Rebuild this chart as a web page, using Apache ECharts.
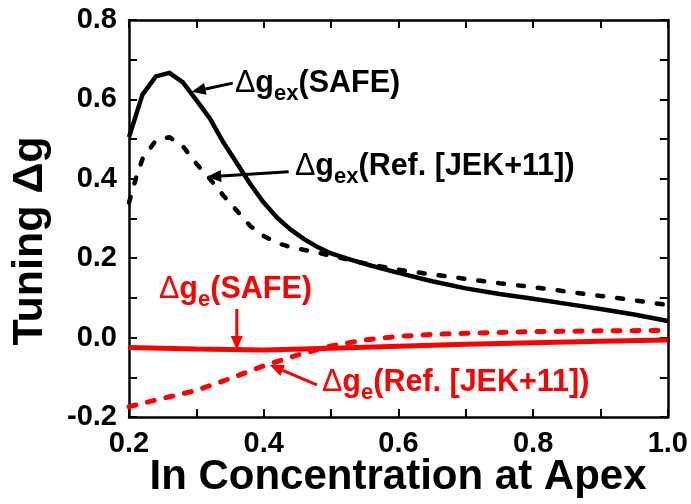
<!DOCTYPE html>
<html>
<head>
<meta charset="utf-8">
<script src="https://cdn.jsdelivr.net/npm/echarts@6/dist/echarts.min.js"></script>
<style>
  html, body { margin: 0; padding: 0; background: #fff; }
  #chart { width: 691px; height: 504px; }
</style>
</head>
<body>
<div id="chart"></div>
<script>
// In concentration at the apex (x) for each curve
const xExSafe = [0.20, 0.22, 0.24, 0.26, 0.28, 0.30, 0.32, 0.34, 0.36, 0.38, 0.40, 0.42, 0.44, 0.46, 0.48, 0.50, 0.53, 0.56, 0.60, 0.65, 0.70, 0.75, 0.80, 0.85, 0.90, 0.95, 1.00];
const exSafe  = [0.505, 0.612, 0.658, 0.667, 0.643, 0.598, 0.552, 0.492, 0.440, 0.387, 0.340, 0.302, 0.272, 0.248, 0.228, 0.212, 0.196, 0.181, 0.163, 0.142, 0.124, 0.110, 0.098, 0.085, 0.072, 0.058, 0.042];

const xExRef = [0.20, 0.21, 0.22, 0.24, 0.26, 0.28, 0.30, 0.32, 0.34, 0.36, 0.38, 0.40, 0.42, 0.44, 0.46, 0.48, 0.50, 0.55, 0.60, 0.65, 0.70, 0.75, 0.80, 0.85, 0.90, 0.95, 1.00];
const exRef  = [0.340, 0.400, 0.450, 0.497, 0.505, 0.482, 0.438, 0.400, 0.358, 0.320, 0.281, 0.256, 0.238, 0.228, 0.221, 0.214, 0.206, 0.187, 0.171, 0.159, 0.148, 0.137, 0.127, 0.116, 0.105, 0.094, 0.082];

const xESafe = [0.20, 0.30, 0.40, 0.50, 0.60, 0.70, 0.80, 0.90, 1.00];
const eSafe  = [-0.025, -0.029, -0.031, -0.027, -0.022, -0.017, -0.013, -0.009, -0.006];

const xERef = [0.20, 0.25, 0.30, 0.35, 0.40, 0.45, 0.50, 0.55, 0.60, 0.65, 0.70, 0.80, 0.90, 1.00];
const eRef  = [-0.174, -0.153, -0.133, -0.103, -0.071, -0.044, -0.021, -0.006, 0.003, 0.008, 0.011, 0.015, 0.017, 0.018];

// Axis ranges (ticks every 0.1, labels every 0.2)
const xRange = [0.2, 1.0];
const yRange = [-0.2, 0.8];
const tickStep = 0.1;

// Annotation arrows: [tail, tip] in data units
const arrows = [
  { from: [0.354, 0.641], to: [0.293, 0.619], color: '#000' },
  { from: [0.437, 0.418], to: [0.316, 0.405], color: '#000' },
  { from: [0.360, 0.072], to: [0.360, -0.031], color: '#f00' },
  { from: [0.479, -0.119], to: [0.409, -0.069], color: '#f00' }
];

const FONT = '"Liberation Sans", Arial, Helvetica, sans-serif';
const pairs = (xs, ys) => xs.map((x, i) => [x, ys[i]]);
const evenLabel = v => (Math.round(v * 10) % 2 === 0 ? v.toFixed(1) : '');

const tickLabel = { color: '#000', fontFamily: FONT, fontWeight: 'bold', fontSize: 29 };

function valueAxis(extra) {
  return Object.assign({
    type: 'value',
    interval: tickStep,
    axisLine: { show: true, onZero: false, lineStyle: { color: '#000', width: 2.5 } },
    axisTick: { show: true, inside: true, length: 8, lineStyle: { color: '#000', width: 2 } },
    splitLine: { show: false }
  }, extra);
}

const chart = echarts.init(document.getElementById('chart'), null, { renderer: 'canvas' });

chart.setOption({
  animation: false,
  backgroundColor: '#fff',
  grid: { left: 129, right: 23, top: 20, bottom: 87 },
  xAxis: [
    valueAxis({
      position: 'bottom', min: xRange[0], max: xRange[1],
      axisLabel: Object.assign({ formatter: evenLabel, margin: 12 }, tickLabel)
    }),
    valueAxis({ position: 'top', min: xRange[0], max: xRange[1], axisLabel: { show: false } })
  ],
  yAxis: [
    valueAxis({
      position: 'left', min: yRange[0], max: yRange[1],
      axisLabel: Object.assign({ formatter: evenLabel, margin: 12 }, tickLabel)
    }),
    valueAxis({ position: 'right', min: yRange[0], max: yRange[1], axisLabel: { show: false } })
  ],
  series: [
    { type: 'line', data: pairs(xExSafe, exSafe), symbol: 'none', lineStyle: { color: '#000', width: 4.5, join: 'round' }, z: 3 },
    { type: 'line', data: pairs(xExRef, exRef), symbol: 'none', lineStyle: { color: '#000', width: 4.5, type: [6, 14], cap: 'round' }, z: 3 },
    { type: 'line', data: pairs(xESafe, eSafe), symbol: 'none', lineStyle: { color: '#f00', width: 5 }, z: 3 },
    { type: 'line', data: pairs(xERef, eRef), symbol: 'none', lineStyle: { color: '#f00', width: 5, type: [7, 12], cap: 'round' }, z: 3 }
  ]
});

// ---- annotations and axis titles ----
const measureCtx = document.createElement('canvas').getContext('2d');
function fontStr(size, weight) { return weight + ' ' + size + 'px ' + FONT; }

// Draws a run of text pieces left to right; "sub" pieces are smaller and lowered
function labelRun(left, mid, pieces, color) {
  const out = [];
  let x = left;
  pieces.forEach(p => {
    const size = p.sub ? 22 : 30.5;
    const weight = p.thin ? 'normal' : 'bold';
    const f = fontStr(size, weight);
    measureCtx.font = f;
    out.push({
      type: 'text', x: x, y: mid + (p.sub ? 10 : 0), silent: true, z: 10,
      style: { text: p.t, font: f, fill: color, align: 'left', verticalAlign: 'middle', textAlign: 'left', textVerticalAlign: 'middle' }
    });
    x += measureCtx.measureText(p.t).width;
  });
  return out;
}

function arrowShapes(a) {
  const p0 = chart.convertToPixel({ xAxisIndex: 0, yAxisIndex: 0 }, a.from);
  const p1 = chart.convertToPixel({ xAxisIndex: 0, yAxisIndex: 0 }, a.to);
  const dx = p1[0] - p0[0], dy = p1[1] - p0[1];
  const len = Math.hypot(dx, dy), ux = dx / len, uy = dy / len;
  const headL = 14, headW = 6;
  const bx = p1[0] - ux * headL, by = p1[1] - uy * headL;
  return [
    { type: 'line', z: 10, silent: true, shape: { x1: p0[0], y1: p0[1], x2: bx, y2: by }, style: { stroke: a.color, lineWidth: 3 } },
    { type: 'polygon', z: 10, silent: true,
      shape: { points: [[p1[0], p1[1]], [bx - uy * headW, by + ux * headW], [bx + uy * headW, by - ux * headW]] },
      style: { fill: a.color } }
  ];
}

let elements = [];
arrows.forEach(a => { elements = elements.concat(arrowShapes(a)); });
elements = elements.concat(
  labelRun(235, 84, [{ t: 'Δ', thin: true }, { t: 'g' }, { t: 'ex', sub: true }, { t: '(SAFE)' }], '#000'),
  labelRun(295, 167, [{ t: 'Δ', thin: true }, { t: 'g' }, { t: 'ex', sub: true }, { t: '(Ref. [JEK+11])' }], '#000'),
  labelRun(159, 290, [{ t: 'Δ', thin: true }, { t: 'g' }, { t: 'e', sub: true }, { t: '(SAFE)' }], '#f00'),
  labelRun(322, 383, [{ t: 'Δ', thin: true }, { t: 'g' }, { t: 'e', sub: true }, { t: '(Ref. [JEK+11])' }], '#f00')
);
// x-axis title under the plot
elements.push({
  type: 'text', x: 398, y: 477, silent: true,
  style: { text: 'In Concentration at Apex', font: fontStr(42, 'bold'), fill: '#000', align: 'center', verticalAlign: 'middle', textAlign: 'center', textVerticalAlign: 'middle' }
});
// y-axis title, reading bottom to top
elements.push({
  type: 'text', x: 30, y: 241, rotation: Math.PI / 2, silent: true,
  style: { text: 'Tuning Δg', font: fontStr(43, 'bold'), fill: '#000', align: 'center', verticalAlign: 'middle', textAlign: 'center', textVerticalAlign: 'middle' }
});

chart.setOption({ graphic: elements });
</script>
</body>
</html>
